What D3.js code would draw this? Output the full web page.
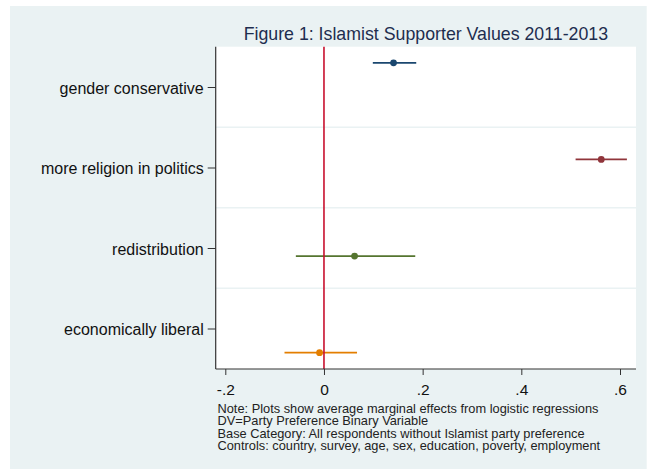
<!DOCTYPE html>
<html>
<head>
<meta charset="utf-8">
<script src="https://cdn.jsdelivr.net/npm/d3@7"></script>
<style>
html,body{margin:0;padding:0;background:#fff;}
svg{display:block;font-family:"Liberation Sans",Arial,sans-serif;}
</style>
</head>
<body>
<svg id="chart" width="654" height="470"></svg>
<script>
const categories = ["gender conservative","more religion in politics","redistribution","economically liberal"];
const estimates = [0.141, 0.562, 0.062, -0.009];
const lower = [0.099, 0.510, -0.057, -0.080];
const upper = [0.187, 0.614, 0.185, 0.067];
const seriesColors = ["#1a476f","#90353b","#55752f","#e37e00"];
const xTicks = [-0.2, 0, 0.2, 0.4, 0.6];
const xTickLabels = ["-.2","0",".2",".4",".6"];
const title = "Figure 1: Islamist Supporter Values 2011-2013";
const notes = [
  "Note: Plots show average marginal effects from logistic regressions",
  "DV=Party Preference Binary Variable",
  "Base Category: All respondents without Islamist party preference",
  "Controls: country, survey, age, sex, education, poverty, employment"
];

const svg = d3.select("#chart");
const plot = {left: 215.7, right: 636, top: 46.7, bottom: 369};
const FONT = "'Liberation Sans',Arial,sans-serif";

// outer background
svg.append("rect").attr("x",10).attr("y",6).attr("width",636.7).attr("height",463).attr("fill","#eaf2f3");
svg.append("rect").attr("x",plot.left).attr("y",plot.top).attr("width",plot.right-plot.left).attr("height",plot.bottom-plot.top).attr("fill","#ffffff");

const x = d3.scaleLinear().domain([-0.2, 0.6]).range([225.3, 620]);
const y = d3.scalePoint().domain(categories).range([87, 328.5]);
const step = y.step();

// gridlines between categories
const gridPos = categories.slice(0,-1).map(c => y(c) + step/2);
svg.append("g").selectAll("line").data(gridPos).join("line")
  .attr("x1",plot.left).attr("x2",plot.right)
  .attr("y1",d=>d).attr("y2",d=>d)
  .attr("stroke","#eaf2f3").attr("stroke-width",1.5);

// data
const data = categories.map((c,i)=>({cat:c, est:estimates[i], lo:lower[i], hi:upper[i], color:seriesColors[i], off:(i-1.5)*step*0.2}));
const g = svg.append("g");
g.selectAll("line.ci").data(data).join("line").attr("class","ci")
  .attr("x1",d=>x(d.lo)).attr("x2",d=>x(d.hi))
  .attr("y1",d=>y(d.cat)+d.off).attr("y2",d=>y(d.cat)+d.off)
  .attr("stroke",d=>d.color).attr("stroke-width",1.8);
g.selectAll("circle").data(data).join("circle")
  .attr("cx",d=>x(d.est)).attr("cy",d=>y(d.cat)+d.off).attr("r",3.4)
  .attr("fill",d=>d.color);

// zero reference line
svg.append("line").attr("x1",x(0)).attr("x2",x(0)).attr("y1",plot.top).attr("y2",plot.bottom)
  .attr("stroke","#c8102e").attr("stroke-width",1.6);

// y axis
const yAxis = svg.append("g").attr("transform",`translate(${plot.left},0)`)
  .call(d3.axisLeft(y).tickSize(8).tickPadding(4));
yAxis.select(".domain").attr("d",`M0,${plot.top}V${plot.bottom}`).attr("stroke","#333").attr("stroke-width",1.2);
yAxis.selectAll(".tick line").attr("stroke","#333");
yAxis.selectAll(".tick text").attr("font-size",16).attr("dy","0.38em").attr("fill","#111").attr("font-family",FONT);

// x axis
const xAxis = svg.append("g").attr("transform",`translate(0,${plot.bottom})`)
  .call(d3.axisBottom(x).tickValues(xTicks).tickFormat((d,i)=>xTickLabels[i]).tickSize(6).tickPadding(9));
xAxis.select(".domain").attr("d",`M${plot.left},0H${plot.right}`).attr("stroke","#333").attr("stroke-width",1.2);
xAxis.selectAll(".tick line").attr("stroke","#333");
xAxis.selectAll(".tick text").attr("font-size",15.5).attr("fill","#111").attr("font-family",FONT);

// title
svg.append("text").attr("x",(plot.left+plot.right)/2).attr("y",40)
  .attr("text-anchor","middle").attr("font-size",17.75).attr("fill","#1e2d4f").text(title);

// notes
svg.append("g").selectAll("text").data(notes).join("text")
  .attr("x",217.5).attr("y",(d,i)=>413+i*12.3)
  .attr("font-size",12.8).attr("fill","#222").text(d=>d);
</script>
</body>
</html>
